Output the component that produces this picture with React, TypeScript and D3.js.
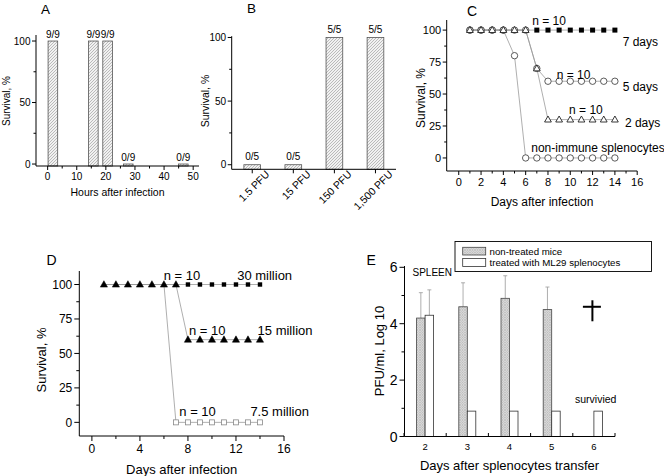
import React from 'react';
import * as d3 from 'd3';

const FONT = "'Liberation Sans', Arial, Helvetica, sans-serif";

// ---------- Panel A data ----------
const aHours = [1.8, 15.7, 20.6, 27.7, 46.6];
const aSurvival = [100, 100, 100, 0, 0];
const aLabels = ['9/9', '9/9', '9/9', '0/9', '0/9'];
const aXTicks = [0, 10, 20, 30, 40, 50];
const aXMinor = [5, 15, 25, 35, 45];
const aYTicks = [0, 50, 100];
const aYMinor = [25, 75];

// ---------- Panel B data ----------
const bDoses = ['1.5 PFU', '15 PFU', '150 PFU', '1,500 PFU'];
const bSurvival = [0, 0, 100, 100];
const bLabels = ['0/5', '0/5', '5/5', '5/5'];
const bYTicks = [0, 50, 100];
const bYMinor = [25, 75];

// ---------- Panel C data ----------
const cDays = [1, 2, 3, 4, 5, 6, 7, 8, 9, 10, 11, 12, 13, 14];
const cSevenDays = [100, 100, 100, 100, 100, 100, 100, 100, 100, 100, 100, 100, 100, 100];
const cFiveDays = [100, 100, 100, 100, 100, 100, 70, 60, 60, 60, 60, 60, 60, 60];
const cNonImmune = [100, 100, 100, 100, 80, 0, 0, 0, 0, 0, 0, 0, 0, 0];
const cTwoDays = [100, 100, 100, 100, 100, 100, 70, 30, 30, 30, 30, 30, 30, 30];
const cXTicks = [0, 2, 4, 6, 8, 10, 12, 14, 16];
const cXMinor = [1, 3, 5, 7, 9, 11, 13, 15];
const cYTicks = [0, 25, 50, 75, 100];
const cYMinor = [12.5, 37.5, 62.5, 87.5];

// ---------- Panel D data ----------
const dDays = [1, 2, 3, 4, 5, 6, 7, 8, 9, 10, 11, 12, 13, 14];
const dThirty = [100, 100, 100, 100, 100, 100, 100, 100, 100, 100, 100, 100, 100, 100];
const dFifteen = [100, 100, 100, 100, 100, 100, 100, 60, 60, 60, 60, 60, 60, 60];
const dSevenHalf = [100, 100, 100, 100, 100, 100, 0, 0, 0, 0, 0, 0, 0, 0];
const dXTicks = [0, 4, 8, 12, 16];
const dXMinor = [2, 6, 10, 14];
const dYTicks = [0, 25, 50, 75, 100];
const dYMinor = [12.5, 37.5, 62.5, 87.5];

// ---------- Panel E data ----------
const eDays = ['2', '3', '4', '5', '6'];
const eNonTreated = [4.2, 4.6, 4.9, 4.5, null];
const eNonTreatedSD = [0.9, 0.85, 0.8, 0.8, null];
const eTreated = [4.3, 0.9, 0.9, 0.9, 0.9];
const eTreatedSD = [0.9, null, null, null, null];
const eYTicks = [0, 2, 4, 6];
const eYMinor = [1, 3, 5];

type Lin = d3.ScaleLinear<number, number>;

function YAxis({ y, x0, top, bottom, ticks, minor, fs, len = 4, mlen = 2.5, gap = 1.5, fmt }: any) {
  return (
    <g>
      <line x1={x0} x2={x0} y1={top} y2={bottom} stroke="#000" strokeWidth={1} />
      {ticks.map((t: number) => (
        <g key={'t' + t}>
          <line x1={x0 - len} x2={x0} y1={y(t)} y2={y(t)} stroke="#000" strokeWidth={1} />
          <text x={x0 - len - gap} y={y(t)} dy="0.36em" textAnchor="end" fontSize={fs}>
            {fmt ? fmt(t) : t}
          </text>
        </g>
      ))}
      {minor.map((t: number) => (
        <line key={'m' + t} x1={x0 - mlen} x2={x0} y1={y(t)} y2={y(t)} stroke="#000" strokeWidth={1} />
      ))}
    </g>
  );
}

function XAxis({ x, y0, left, right, ticks, minor, fs, len = 4, mlen = 2.5, labelY }: any) {
  return (
    <g>
      <line x1={left} x2={right} y1={y0} y2={y0} stroke="#000" strokeWidth={1} />
      {ticks.map((t: number) => (
        <g key={'t' + t}>
          <line x1={x(t)} x2={x(t)} y1={y0} y2={y0 + len} stroke="#000" strokeWidth={1} />
          <text x={x(t)} y={labelY} textAnchor="middle" fontSize={fs}>
            {t}
          </text>
        </g>
      ))}
      {minor.map((t: number) => (
        <line key={'m' + t} x1={x(t)} x2={x(t)} y1={y0} y2={y0 + mlen} stroke="#000" strokeWidth={1} />
      ))}
    </g>
  );
}

function Marker({ type, cx, cy }: { type: string; cx: number; cy: number }) {
  switch (type) {
    case 'circle':
      return <circle cx={cx} cy={cy} r={3.2} fill="#fff" stroke="#333" strokeWidth={0.8} />;
    case 'triangleOpen':
      return (
        <polygon
          points={`${cx},${cy - 3.6} ${cx - 3.4},${cy + 2.4} ${cx + 3.4},${cy + 2.4}`}
          fill="#fff"
          stroke="#222"
          strokeWidth={0.9}
        />
      );
    case 'triangleFilled':
      return (
        <polygon
          points={`${cx},${cy - 3.8} ${cx - 3.6},${cy + 2.6} ${cx + 3.6},${cy + 2.6}`}
          fill="#000"
          stroke="#000"
          strokeWidth={0.5}
        />
      );
    case 'squareFilled':
      return <rect x={cx - 2.5} y={cy - 2.5} width={5} height={5} fill="#000" />;
    case 'squareSmall':
      return <rect x={cx - 2.2} y={cy - 2.2} width={4.4} height={4.4} fill="#000" />;
    case 'squareOpenGray':
      return <rect x={cx - 2.5} y={cy - 2.5} width={5} height={5} fill="#fff" stroke="#888" strokeWidth={0.8} />;
    default:
      return null;
  }
}

function LinePanel({ days, series, x, y }: any) {
  const line = d3
    .line<number>()
    .x((_, i) => x(days[i]))
    .y((v) => y(v));
  return (
    <g>
      {series.map((s: any) => (
        <path key={'l' + s.name} d={line(s.values) || ''} fill="none" stroke="#9a9a9a" strokeWidth={0.8} />
      ))}
      {series.map((s: any) => (
        <g key={'m' + s.name}>
          {s.values.map((v: number, i: number) =>
            days[i] >= s.from ? <Marker key={i} type={s.marker} cx={x(days[i])} cy={y(v)} /> : null
          )}
        </g>
      ))}
    </g>
  );
}

export default function App() {
  // ---------- scales ----------
  const xA: Lin = d3.scaleLinear().domain([-4, 52]).range([36, 199]);
  const yA: Lin = d3.scaleLinear().domain([-1.6, 104.9]).range([166, 35]);
  const barWA = 3.3;

  const xB = d3.scalePoint<string>().domain(bDoses).range([231.7, 396]).padding(0.5);
  const yB: Lin = d3.scaleLinear().domain([-3.6, 101]).range([169.3, 36.2]);
  const barWB = 16.7;

  const xC: Lin = d3.scaleLinear().domain([-1.08, 16]).range([446.7, 637.2]);
  const yC: Lin = d3.scaleLinear().domain([-10.2, 107.9]).range([171, 20]);

  const xD: Lin = d3.scaleLinear().domain([-1.05, 16]).range([79.3, 284]);
  const yD: Lin = d3.scaleLinear().domain([-9.9, 109.8]).range([436, 271]);

  const xE = d3.scaleBand<string>().domain(eDays).range([404, 615]).padding(0);
  const yE: Lin = d3.scaleLinear().domain([0, 6]).range([436.5, 267.3]);
  const barWE = 8.5;
  const cE = (d: string) => (xE(d) as number) + xE.bandwidth() / 2;

  const cSeries = [
    { name: '7 days', values: cSevenDays, marker: 'squareFilled', from: 7 },
    { name: '5 days', values: cFiveDays, marker: 'circle', from: 1 },
    { name: 'non-immune', values: cNonImmune, marker: 'circle', from: 1 },
    { name: '2 days', values: cTwoDays, marker: 'triangleOpen', from: 1 },
  ];
  const dSeries = [
    { name: '30 million', values: dThirty, marker: 'squareSmall', from: 8 },
    { name: '7.5 million', values: dSevenHalf, marker: 'squareOpenGray', from: 7 },
    { name: '15 million', values: dFifteen, marker: 'triangleFilled', from: 1 },
  ];

  return (
    <svg
      width={664}
      height={476}
      style={{ position: 'absolute', left: 0, top: 0, background: '#fff' }}
      fontFamily={FONT}
    >
      <defs>
        <pattern id="hatchA" width="3" height="3" patternUnits="userSpaceOnUse">
          <rect width="3" height="3" fill="#f1f1f1" />
          <path d="M-1,1 L1,-1 M0,3 L3,0 M2,4 L4,2" stroke="#8c8c8c" strokeWidth={0.55} />
        </pattern>
        <pattern id="hatchE" width="2.5" height="2.5" patternUnits="userSpaceOnUse">
          <rect width="2.5" height="2.5" fill="#e2e2e2" />
          <path d="M0,0 L2.5,2.5 M0,2.5 L2.5,0" stroke="#a8a8a8" strokeWidth={0.5} />
        </pattern>
      </defs>
      <rect width={664} height={476} fill="#fff" />

      {/* ================= Panel A ================= */}
      <g>
        <text x={41} y={14} fontSize={13.5}>A</text>
        {aHours.map((h, i) => {
          const top = Math.min(yA(aSurvival[i]), yA(yA.domain()[0]) - 2);
          return (
            <g key={i}>
              <rect
                x={xA(h - barWA / 2)}
                y={top}
                width={xA(h + barWA / 2) - xA(h - barWA / 2)}
                height={yA(yA.domain()[0]) - top}
                fill="url(#hatchA)"
                stroke="#555"
                strokeWidth={0.8}
              />
              <text x={xA(h)} y={top - 3} textAnchor="middle" fontSize={10}>
                {aLabels[i]}
              </text>
            </g>
          );
        })}
        <YAxis y={yA} x0={36} top={35} bottom={166} ticks={aYTicks} minor={aYMinor} fs={10} />
        <XAxis x={xA} y0={166} left={36} right={199} ticks={aXTicks} minor={aXMinor} fs={10} labelY={179.5} />
        <text x={117.5} y={196} textAnchor="middle" fontSize={10.5}>Hours after infection</text>
        <text transform="translate(10,101) rotate(-90)" textAnchor="middle" fontSize={10}>Survival, %</text>
      </g>

      {/* ================= Panel B ================= */}
      <g>
        <text x={247} y={13} fontSize={13.5}>B</text>
        {bDoses.map((d, i) => {
          const cx = xB(d) as number;
          const top = yB(bSurvival[i]);
          return (
            <g key={d}>
              <rect
                x={cx - barWB / 2}
                y={top}
                width={barWB}
                height={yB(yB.domain()[0]) - top}
                fill="url(#hatchA)"
                stroke="#555"
                strokeWidth={0.8}
              />
              <text x={cx} y={top - 4.5} textAnchor="middle" fontSize={10}>
                {bLabels[i]}
              </text>
            </g>
          );
        })}
        <YAxis y={yB} x0={231.7} top={36.2} bottom={169.3} ticks={bYTicks} minor={bYMinor} fs={10} />
        <line x1={231.7} x2={396} y1={169.3} y2={169.3} stroke="#000" />
        {bDoses.map((d) => {
          const cx = xB(d) as number;
          return (
            <g key={'bt' + d}>
              <line x1={cx} x2={cx} y1={169.3} y2={173.3} stroke="#000" />
              <text
                transform={`translate(${cx + 18},${175}) rotate(-45)`}
                textAnchor="end"
                fontSize={10.5}
              >
                {d}
              </text>
            </g>
          );
        })}
        <text transform="translate(209,101) rotate(-90)" textAnchor="middle" fontSize={10.5}>Survival, %</text>
      </g>

      {/* ================= Panel C ================= */}
      <g>
        <text x={467} y={16} fontSize={14}>C</text>
        <YAxis y={yC} x0={446.7} top={20} bottom={171} ticks={cYTicks} minor={cYMinor} fs={11} />
        <XAxis x={xC} y0={171} left={446.7} right={637.2} ticks={cXTicks} minor={cXMinor} fs={11} labelY={185.5} />
        <LinePanel days={cDays} series={cSeries} x={xC} y={yC} />
        <g fontSize={12}>
          <text x={xC(8.1)} y={yC(100) - 5} textAnchor="middle">n = 10</text>
          <text x={xC(14.7)} y={yC(100) + 16} textAnchor="start">7 days</text>
          <text x={xC(10.3)} y={yC(60) - 2} textAnchor="middle">n = 10</text>
          <text x={xC(14.7)} y={yC(60) + 10} textAnchor="start">5 days</text>
          <text x={xC(11.4)} y={yC(30) - 6} textAnchor="middle">n = 10</text>
          <text x={xC(14.9)} y={yC(30) + 7} textAnchor="start">2 days</text>
          <text x={xC(6.5)} y={yC(0) - 5.5} textAnchor="start">non-immune splenocytes</text>
        </g>
        <text x={542} y={206} textAnchor="middle" fontSize={12}>Days after infection</text>
        <text transform="translate(425,98) rotate(-90)" textAnchor="middle" fontSize={12}>Survival, %</text>
      </g>

      {/* ================= Panel D ================= */}
      <g>
        <text x={46.5} y={265} fontSize={14}>D</text>
        <YAxis y={yD} x0={79.3} top={271} bottom={436} ticks={dYTicks} minor={dYMinor} fs={12} len={5} mlen={3} gap={2} />
        <XAxis x={xD} y0={436} left={79.3} right={284} ticks={dXTicks} minor={dXMinor} fs={12} len={5} mlen={3} labelY={452.5} />
        <LinePanel days={dDays} series={dSeries} x={xD} y={yD} />
        <g fontSize={13}>
          <text x={xD(7.5)} y={yD(100) - 5} textAnchor="middle">n = 10</text>
          <text x={xD(12.1)} y={yD(100) - 5} textAnchor="start">30 million</text>
          <text x={xD(9.6)} y={yD(60) - 5} textAnchor="middle">n = 10</text>
          <text x={xD(13.8)} y={yD(60) - 5} textAnchor="start">15 million</text>
          <text x={xD(8.8)} y={yD(0) - 6} textAnchor="middle">n = 10</text>
          <text x={xD(13.2)} y={yD(0) - 6} textAnchor="start">7.5 million</text>
        </g>
        <text x={181.7} y={473.5} textAnchor="middle" fontSize={13}>Days after infection</text>
        <text transform="translate(46,360) rotate(-90)" textAnchor="middle" fontSize={13}>Survival, %</text>
      </g>

      {/* ================= Panel E ================= */}
      <g>
        <text x={366.5} y={265} fontSize={14}>E</text>
        {eDays.map((d, i) => {
          const c = cE(d);
          const nt = eNonTreated[i];
          const tr = eTreated[i];
          const ntSD = eNonTreatedSD[i];
          const trSD = eTreatedSD[i];
          return (
            <g key={d}>
              {nt != null && (
                <g>
                  {ntSD != null && (
                    <g stroke="#999" strokeWidth={0.8}>
                      <line x1={c - barWE / 2} x2={c - barWE / 2} y1={yE(nt)} y2={yE(nt + ntSD)} />
                      <line x1={c - barWE / 2 - 2} x2={c - barWE / 2 + 2} y1={yE(nt + ntSD)} y2={yE(nt + ntSD)} />
                    </g>
                  )}
                  <rect
                    x={c - barWE}
                    y={yE(nt)}
                    width={barWE}
                    height={yE(0) - yE(nt)}
                    fill="url(#hatchE)"
                    stroke="#444"
                    strokeWidth={0.8}
                  />
                </g>
              )}
              {tr != null && (
                <g>
                  {trSD != null && (
                    <g stroke="#999" strokeWidth={0.8}>
                      <line x1={c + barWE / 2} x2={c + barWE / 2} y1={yE(tr)} y2={yE(tr + trSD)} />
                      <line x1={c + barWE / 2 - 2} x2={c + barWE / 2 + 2} y1={yE(tr + trSD)} y2={yE(tr + trSD)} />
                    </g>
                  )}
                  <rect
                    x={c}
                    y={yE(tr)}
                    width={barWE}
                    height={yE(0) - yE(tr)}
                    fill="#fff"
                    stroke="#333"
                    strokeWidth={0.8}
                  />
                </g>
              )}
            </g>
          );
        })}
        <YAxis y={yE} x0={404.5} top={266} bottom={436.5} ticks={eYTicks} minor={eYMinor} fs={14} len={5} mlen={3} gap={2} />
        <line x1={404.5} x2={615} y1={436.5} y2={436.5} stroke="#000" />
        {eDays.map((d) => (
          <line key={'et' + d} x1={xE(d) as number} x2={xE(d) as number} y1={436.5} y2={433} stroke="#000" />
        ))}
        <line x1={615} x2={615} y1={436.5} y2={433} stroke="#000" />
        {eDays.map((d) => (
          <text key={'el' + d} x={cE(d)} y={450} textAnchor="middle" fontSize={9.5}>
            {d}
          </text>
        ))}
        {/* dagger (deaths) mark */}
        <g stroke="#000" strokeWidth={2}>
          <line x1={cE('6') - 1.5} x2={cE('6') - 1.5} y1={yE(4.6) - 6.5} y2={yE(4.6) + 14.5} />
          <line x1={cE('6') - 11} x2={cE('6') + 7} y1={yE(4.6)} y2={yE(4.6)} />
        </g>
        <text x={412.5} y={276} fontSize={10}>SPLEEN</text>
        <text x={575} y={402.5} fontSize={10.5}>survivied</text>
        {/* legend */}
        <rect x={455} y={241.5} width={196.5} height={30} fill="#fff" stroke="#000" strokeWidth={0.9} />
        <rect x={462.7} y={247.3} width={23} height={7.7} fill="url(#hatchE)" stroke="#444" strokeWidth={0.8} />
        <text x={489.5} y={254.5} fontSize={9.7}>non-treated mice</text>
        <rect x={462.7} y={258.5} width={23} height={8} fill="#fff" stroke="#333" strokeWidth={0.8} />
        <text x={489.5} y={265.5} fontSize={9.7}>treated with ML29 splenocytes</text>
        <text x={509.5} y={469.5} textAnchor="middle" fontSize={13}>Days after splenocytes transfer</text>
        <text transform="translate(384,351) rotate(-90)" textAnchor="middle" fontSize={13}>PFU/ml, Log 10</text>
      </g>
    </svg>
  );
}
